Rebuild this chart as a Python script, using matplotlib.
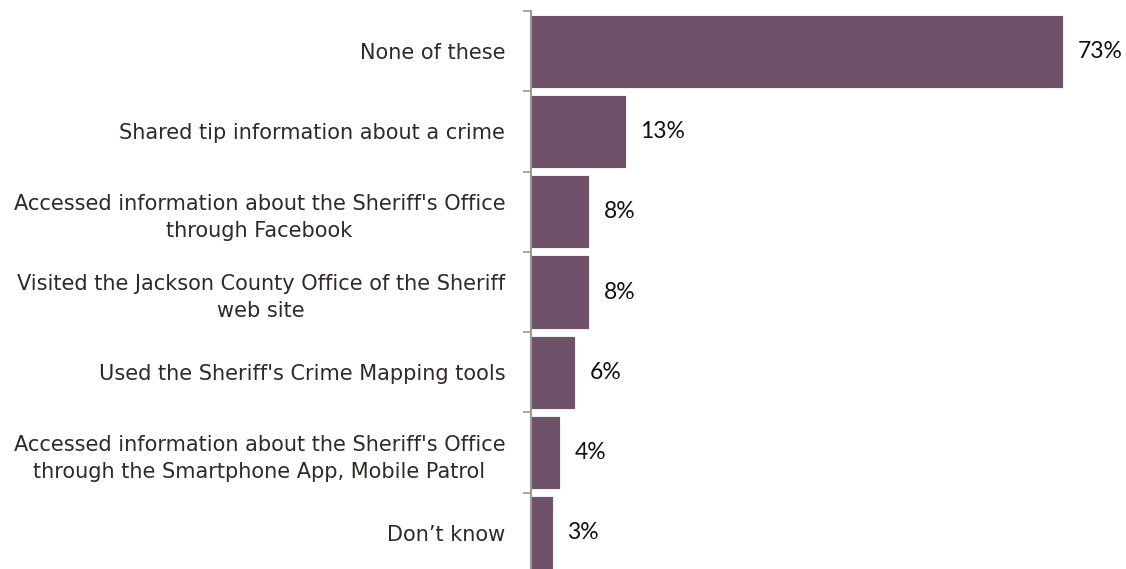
import numpy as np
import matplotlib
matplotlib.use("Agg")
import matplotlib.pyplot as plt

categories = [
    "None of these",
    "Shared tip information about a crime",
    "Accessed information about the Sheriff's Office\nthrough Facebook",
    "Visited the Jackson County Office of the Sheriff\nweb site",
    "Used the Sheriff's Crime Mapping tools",
    "Accessed information about the Sheriff's Office\nthrough the Smartphone App, Mobile Patrol",
    "Don\u2019t know",
]
values = [73, 13, 8, 8, 6, 4, 3]

BAR = "#6F5169"
AXIS = "#9a9a9a"

fig = plt.figure(figsize=(11.26, 5.69), dpi=100)
ax = fig.add_axes([531 / 1126, -4 / 569, 595 / 1126, 562 / 569])

y = np.arange(len(categories))
ax.barh(y, values, height=0.91, color=BAR, edgecolor="white", linewidth=0.6)
ax.set_ylim(len(categories) - 0.5, -0.5)
ax.set_xlim(0, 595 / 7.29)

# value labels just right of each bar
for yi, v in zip(y, values):
    ax.text(v + 2.0, yi, f"{v}%", va="center", ha="left",
            fontsize=16.5, family="Lato", color="#111111")

ax.set_yticks(y)
ax.set_yticklabels(categories, fontsize=15, color="#2f2a26",
                   multialignment="center", linespacing=1.45)
ax.tick_params(axis="y", which="major", length=0, pad=18.5)
# short ticks between the categories
ax.set_yticks(np.arange(len(categories) + 1) - 0.5, minor=True)
ax.tick_params(axis="y", which="minor", length=6, width=1.2, color=AXIS)
ax.set_xticks([])

for s in ["top", "right", "bottom"]:
    ax.spines[s].set_visible(False)
ax.spines["left"].set_color(AXIS)
ax.spines["left"].set_linewidth(1.5)

fig.savefig("out.png", dpi=100, facecolor="white")
